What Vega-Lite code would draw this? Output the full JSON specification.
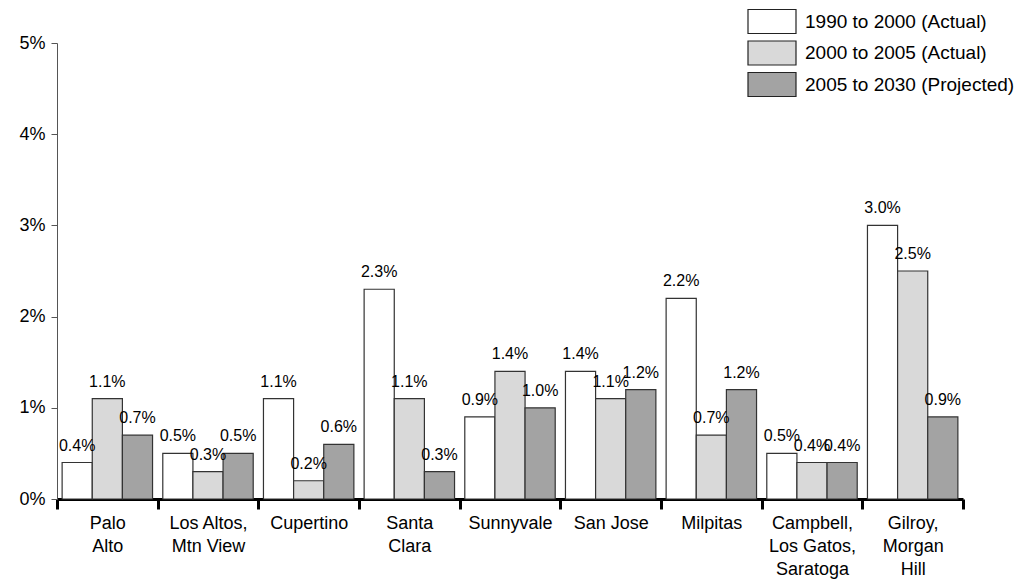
{
  "$schema": "https://vega.github.io/schema/vega-lite/v6.json",
  "autosize": "none",
  "padding": {"left": 57, "top": 43, "right": 58, "bottom": 80},
  "width": 906,
  "height": 456,
  "background": "white",
  "config": {"view": {"stroke": null}, "font": "Liberation Sans"},
  "data": {"values": [
    {"city": "Palo|Alto", "series": "1990 to 2000 (Actual)", "v": 0.004},
    {"city": "Palo|Alto", "series": "2000 to 2005 (Actual)", "v": 0.011},
    {"city": "Palo|Alto", "series": "2005 to 2030 (Projected)", "v": 0.007},
    {"city": "Los Altos,|Mtn View", "series": "1990 to 2000 (Actual)", "v": 0.005},
    {"city": "Los Altos,|Mtn View", "series": "2000 to 2005 (Actual)", "v": 0.003},
    {"city": "Los Altos,|Mtn View", "series": "2005 to 2030 (Projected)", "v": 0.005},
    {"city": "Cupertino", "series": "1990 to 2000 (Actual)", "v": 0.011},
    {"city": "Cupertino", "series": "2000 to 2005 (Actual)", "v": 0.002},
    {"city": "Cupertino", "series": "2005 to 2030 (Projected)", "v": 0.006},
    {"city": "Santa|Clara", "series": "1990 to 2000 (Actual)", "v": 0.023},
    {"city": "Santa|Clara", "series": "2000 to 2005 (Actual)", "v": 0.011},
    {"city": "Santa|Clara", "series": "2005 to 2030 (Projected)", "v": 0.003},
    {"city": "Sunnyvale", "series": "1990 to 2000 (Actual)", "v": 0.009},
    {"city": "Sunnyvale", "series": "2000 to 2005 (Actual)", "v": 0.014},
    {"city": "Sunnyvale", "series": "2005 to 2030 (Projected)", "v": 0.010},
    {"city": "San Jose", "series": "1990 to 2000 (Actual)", "v": 0.014},
    {"city": "San Jose", "series": "2000 to 2005 (Actual)", "v": 0.011},
    {"city": "San Jose", "series": "2005 to 2030 (Projected)", "v": 0.012},
    {"city": "Milpitas", "series": "1990 to 2000 (Actual)", "v": 0.022},
    {"city": "Milpitas", "series": "2000 to 2005 (Actual)", "v": 0.007},
    {"city": "Milpitas", "series": "2005 to 2030 (Projected)", "v": 0.012},
    {"city": "Campbell,|Los Gatos,|Saratoga", "series": "1990 to 2000 (Actual)", "v": 0.005},
    {"city": "Campbell,|Los Gatos,|Saratoga", "series": "2000 to 2005 (Actual)", "v": 0.004},
    {"city": "Campbell,|Los Gatos,|Saratoga", "series": "2005 to 2030 (Projected)", "v": 0.004},
    {"city": "Gilroy,|Morgan|Hill", "series": "1990 to 2000 (Actual)", "v": 0.030},
    {"city": "Gilroy,|Morgan|Hill", "series": "2000 to 2005 (Actual)", "v": 0.025},
    {"city": "Gilroy,|Morgan|Hill", "series": "2005 to 2030 (Projected)", "v": 0.009}
  ]},
  "encoding": {
    "x": {
      "field": "city", "type": "nominal", "sort": null,
      "scale": {"paddingInner": 0, "paddingOuter": 0},
      "axis": {
        "title": null, "labelAngle": 0, "labelFontSize": 18, "labelColor": "black",
        "labelExpr": "split(datum.label, '|')", "labelLineHeight": 23,
        "labelPadding": 5, "labelBaseline": "top",
        "domainColor": "black", "domainWidth": 3,
        "tickBand": "extent", "tickColor": "black", "tickWidth": 3, "tickSize": 10,
        "labelLimit": 0
      }
    },
    "xOffset": {
      "field": "series", "type": "nominal", "sort": null,
      "scale": {"paddingInner": 0, "paddingOuter": 0.17}
    },
    "y": {
      "field": "v", "type": "quantitative",
      "scale": {"domain": [0, 0.05], "nice": false},
      "axis": {
        "title": null, "format": ".0%", "values": [0, 0.01, 0.02, 0.03, 0.04, 0.05],
        "grid": false, "labelFontSize": 18, "labelColor": "black", "labelPadding": 6,
        "domainColor": "#555", "tickColor": "#555", "tickSize": 6
      }
    }
  },
  "layer": [
    {
      "mark": {"type": "bar", "stroke": "#333", "strokeWidth": 1.2},
      "encoding": {
        "fill": {
          "field": "series", "type": "nominal", "sort": null,
          "scale": {"range": ["#ffffff", "#d9d9d9", "#a3a3a3"]},
          "legend": {
            "title": null, "orient": "none", "legendX": 702, "legendY": -34.5,
            "padding": 0, "labelFontSize": 19, "labelColor": "black", "labelLimit": 400,
            "symbolType": "M-2,-1H2V1H-2Z", "symbolSize": 576,
            "symbolStrokeColor": "#222", "symbolStrokeWidth": 1.2, "symbolOpacity": 1,
            "labelOffset": 20, "rowPadding": 1.5
          }
        }
      }
    },
    {
      "mark": {"type": "text", "baseline": "middle", "dy": -17, "fontSize": 16, "color": "black"},
      "encoding": {
        "text": {"field": "v", "type": "quantitative", "format": ".1%"}
      }
    }
  ]
}
